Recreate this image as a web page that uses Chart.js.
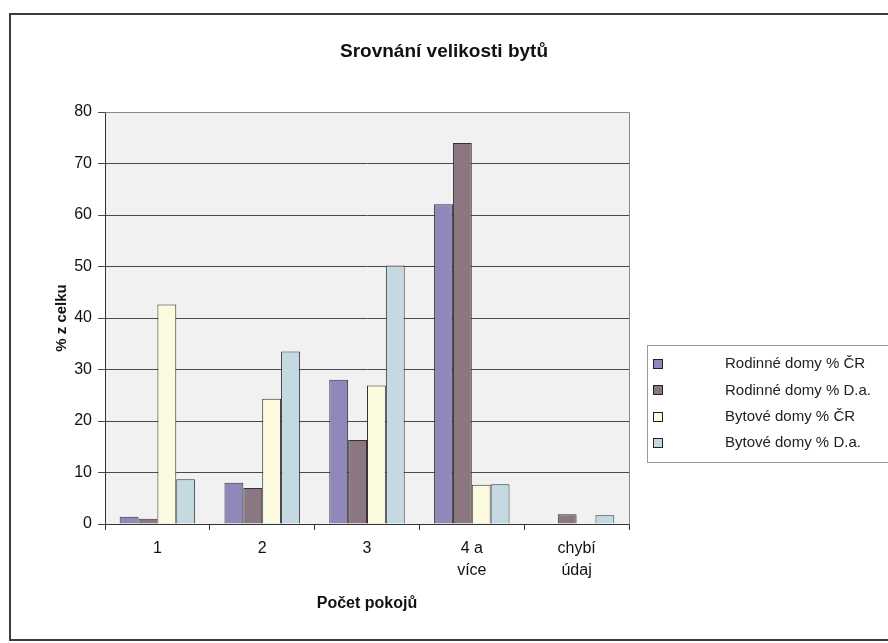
<!DOCTYPE html>
<html><head><meta charset="utf-8">
<script src="https://cdn.jsdelivr.net/npm/chart.js@4.4.1/dist/chart.umd.min.js"></script>
<style>html,body{margin:0;padding:0;background:#fff;}canvas{display:block;}</style>
</head><body>
<canvas id="c" width="888" height="643"></canvas>
<script>
const chartTitle = 'Srovnání velikosti bytů';
const xTitle = 'Počet pokojů';
const yTitle = '% z celku';
const categories = [['1'], ['2'], ['3'], ['4 a', 'více'], ['chybí', 'údaj']];
const seriesNames = ['Rodinné domy % ČR', 'Rodinné domy % D.a.', 'Bytové domy % ČR', 'Bytové domy % D.a.'];
const rodinneCR = [1.4, 8.0, 28.0, 62.1, 0];
const rodinneDA = [1.0, 7.0, 16.3, 74.0, 1.9];
const bytoveCR = [42.6, 24.3, 26.9, 7.6, 0];
const bytoveDA = [8.7, 33.5, 50.2, 7.7, 1.7];
const yMin = 0, yMax = 80, yStep = 10;

const seriesValues = [rodinneCR, rodinneDA, bytoveCR, bytoveDA];
const seriesColors = ['#8f88b9', '#8a7781', '#fcfbdf', '#c5d9e3'];
const FONT = '"Liberation Sans", Arial, sans-serif';
Chart.defaults.font.family = FONT;

const bgPlugin = {
  id: 'bg',
  beforeDraw(chart) {
    const a = chart.chartArea, ctx = chart.ctx;
    ctx.save();
    ctx.fillStyle = '#f1f1f1';
    ctx.fillRect(a.left, a.top, a.right - a.left, a.bottom - a.top);
    ctx.restore();
  },
  beforeDatasetsDraw(chart) {
    const a = chart.chartArea, ctx = chart.ctx;
    ctx.save();
    ctx.strokeStyle = '#8a8a8a';
    ctx.lineWidth = 1;
    ctx.beginPath();
    ctx.moveTo(Math.round(a.left) + 0.5, Math.round(a.top) + 0.5);
    ctx.lineTo(Math.round(a.right) + 0.5, Math.round(a.top) + 0.5);
    ctx.lineTo(Math.round(a.right) + 0.5, Math.round(a.bottom) + 0.5);
    ctx.stroke();
    ctx.restore();
  },
  afterDraw(chart) {
    const ctx = chart.ctx;
    ctx.save();
    ctx.fillStyle = '#ffffff';
    ctx.strokeStyle = '#9a9a9a';
    ctx.lineWidth = 1;
    ctx.fillRect(647.5, 345.5, 260, 117);
    ctx.strokeRect(647.5, 345.5, 260, 117);
    chart.data.datasets.forEach((ds, i) => {
      const y = 364 + i * 26.4;
      ctx.fillStyle = ds.backgroundColor;
      ctx.fillRect(653.5, Math.round(y - 5) + 0.5, 9, 9);
      ctx.strokeStyle = '#222';
      ctx.strokeRect(653.5, Math.round(y - 5) + 0.5, 9, 9);
      ctx.fillStyle = '#222';
      ctx.font = '15px ' + FONT;
      ctx.textBaseline = 'middle';
      ctx.textAlign = 'left';
      ctx.fillText(ds.label, 725, y);
    });
    ctx.strokeStyle = '#3c3c3c';
    ctx.lineWidth = 2;
    ctx.strokeRect(10, 14, 900, 626);
    ctx.restore();
  }
};

new Chart(document.getElementById('c'), {
  type: 'bar',
  data: {
    labels: categories,
    datasets: seriesNames.map((name, i) => ({
      label: name,
      data: seriesValues[i],
      backgroundColor: seriesColors[i],
      borderColor: '#333',
      borderWidth: 1,
      categoryPercentage: 0.72,
      barPercentage: 1.0
    }))
  },
  options: {
    responsive: false,
    devicePixelRatio: 1,
    animation: false,
    layout: { padding: { left: 0, right: 0, top: 0, bottom: 0 } },
    plugins: {
      legend: { display: false },
      tooltip: { enabled: false },
      title: {
        display: true,
        text: chartTitle,
        color: '#111',
        font: { size: 19, weight: 'bold', family: FONT },
        padding: { top: 40.6, bottom: 48.6 }
      }
    },
    scales: {
      x: {
        grid: { display: true, drawOnChartArea: false, offset: true, tickLength: 6, color: '#333' },
        border: { color: '#333', width: 1 },
        ticks: { color: '#111', font: { size: 16, lineHeight: 1.375 }, padding: 8, maxRotation: 0, autoSkip: false },
        title: { display: true, text: xTitle, color: '#111', font: { size: 16, weight: 'bold' }, padding: { top: 0, bottom: 29.4 } },
        afterFit(s) { s.height = 119; }
      },
      y: {
        min: yMin, max: yMax,
        ticks: { stepSize: yStep, color: '#111', font: { size: 16 }, padding: 6 },
        grid: { color: '#4a4a4a', lineWidth: 1, tickLength: 7 },
        border: { color: '#333', width: 1 },
        title: { display: true, text: yTitle, color: '#111', font: { size: 15, weight: 'bold' }, padding: { top: 53, bottom: 0 } },
        afterFit(s) { s.width = 105; s.paddingTop = 0; s.paddingBottom = 0; }
      },
      yR: {
        position: 'right',
        display: true,
        min: 0, max: 1,
        grid: { display: false, drawTicks: false },
        border: { display: false },
        ticks: { display: false },
        afterFit(s) { s.width = 259; s.paddingTop = 0; s.paddingBottom = 0; }
      }
    }
  },
  plugins: [bgPlugin]
});
</script>
</body></html>
